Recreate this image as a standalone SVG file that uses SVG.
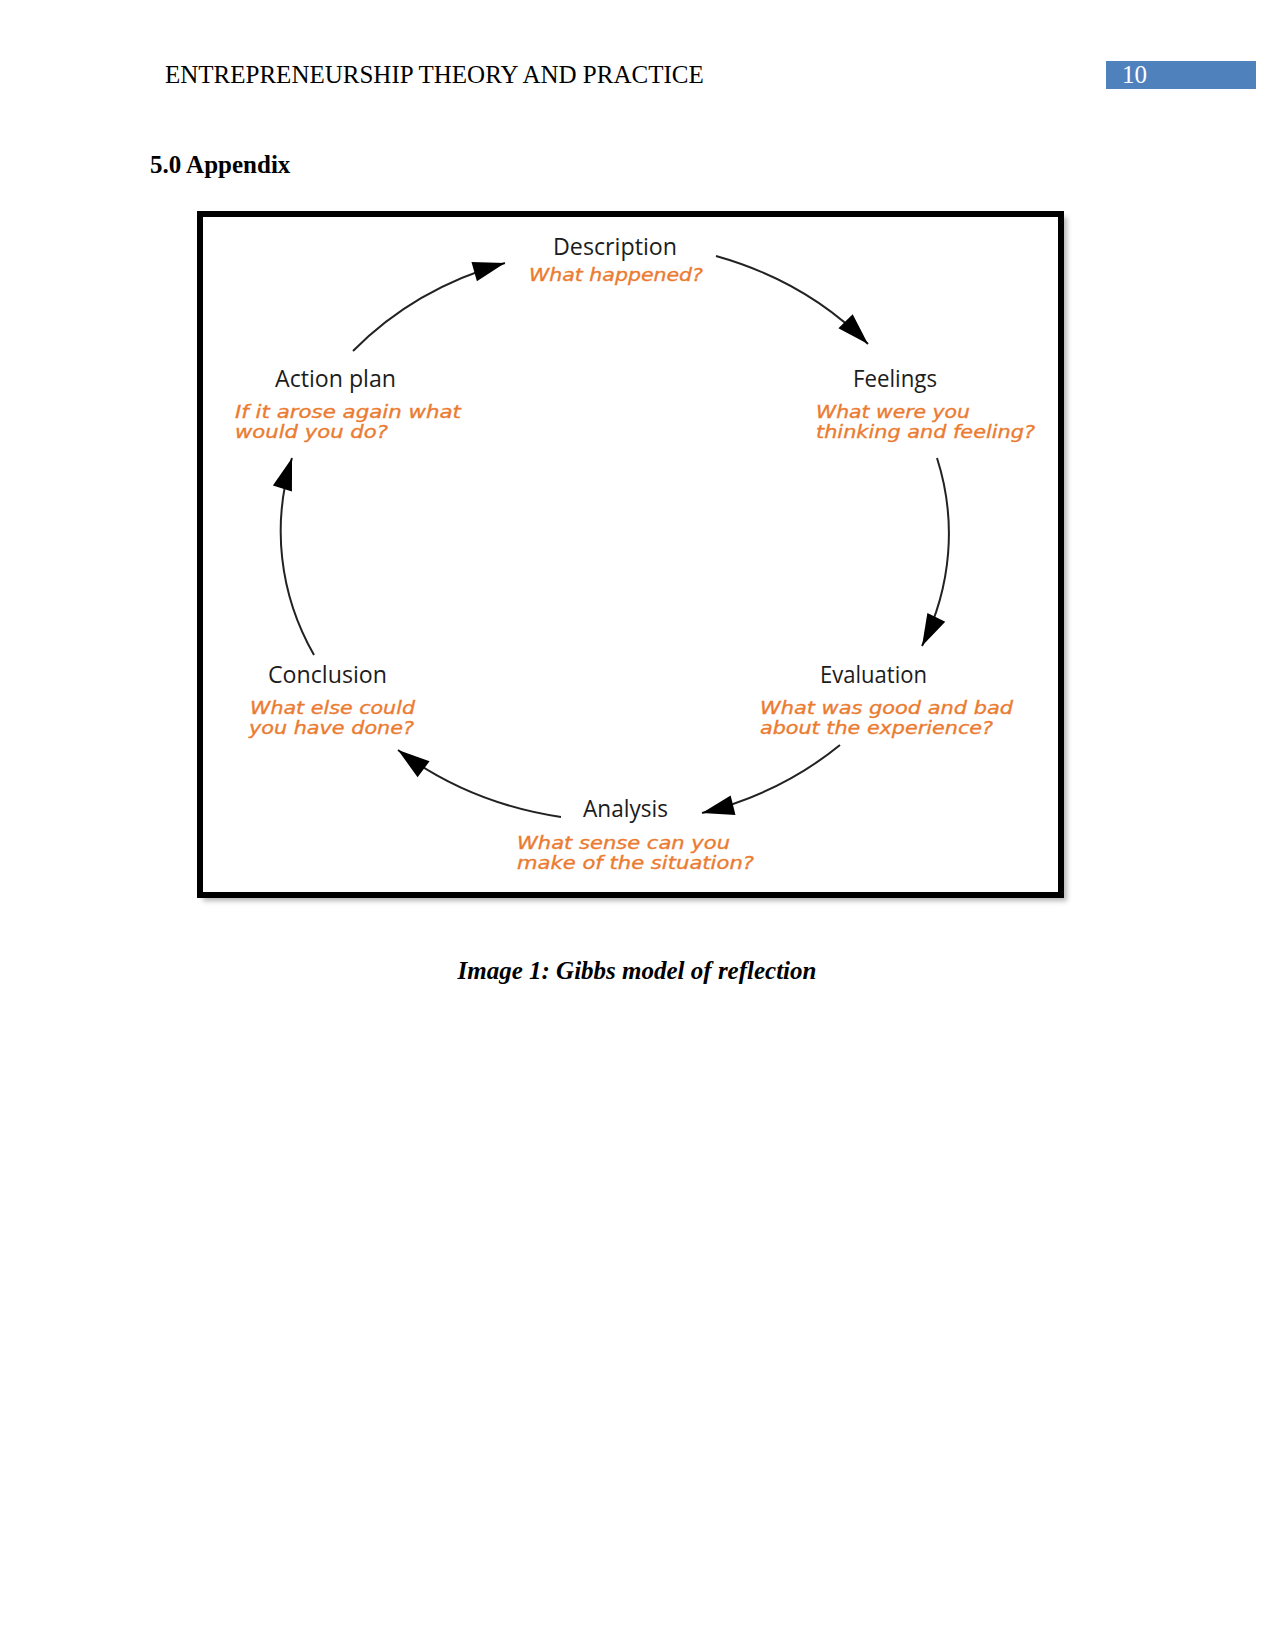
<svg xmlns="http://www.w3.org/2000/svg" width="1275" height="1651" viewBox="0 0 1275 1651">
  <style>
    .serif { font-family: "Liberation Serif", "Times New Roman", serif; font-size: 25px; fill: #000; }
    .title { font-family: "Open Sans", "Lato", "DejaVu Sans", sans-serif; font-size: 23px; font-weight: 500; fill: #1c1c1c; }
    .sub { font-family: "DejaVu Sans", "Verdana", sans-serif; font-style: italic; font-size: 18px; fill: #EB7B30; stroke: #EB7B30; stroke-width: 0.35; }
    .conn { fill: none; stroke: #222; stroke-width: 2; marker-end: url(#head); }
  </style>
  <defs>
    <marker id="head" markerUnits="userSpaceOnUse" markerWidth="36" markerHeight="24" refX="32" refY="10" orient="auto" overflow="visible">
      <path d="M0,0 L32,10 L0,20 Z" fill="#000"/>
    </marker>
    <filter id="shadow" x="-5%" y="-5%" width="110%" height="110%">
      <feGaussianBlur stdDeviation="2.5"/>
    </filter>
  </defs>
  <rect width="1275" height="1651" fill="#fff"/>

  <g id="header">
    <text class="serif" x="165" y="83">ENTREPRENEURSHIP THEORY AND PRACTICE</text>
    <rect x="1106" y="61" width="150" height="28" fill="#4F81BD"/>
    <text class="serif" x="1122" y="83" style="fill:#fff">10</text>
  </g>

  <text id="heading" class="serif" x="150" y="173" font-weight="bold">5.0 Appendix</text>

  <g id="frame">
    <rect x="203" y="217" width="864" height="684" fill="#999" filter="url(#shadow)" opacity="0.7"/>
    <rect x="200" y="214" width="861" height="681" fill="#fff" stroke="#000" stroke-width="6"/>
  </g>

  <g id="connectors">
    <path class="conn" d="M353,351 A336,290 0 0 1 505,263"/>
    <path class="conn" d="M716,256 A336,290 0 0 1 868,344"/>
    <path class="conn" d="M937,458 A320,280 0 0 1 922,646"/>
    <path class="conn" d="M840,745 A336,290 0 0 1 702,813"/>
    <path class="conn" d="M561,817 A336,290 0 0 1 398,750"/>
    <path class="conn" d="M314,655 A300,270 0 0 1 292,458"/>
  </g>

  <g id="description">
    <text class="title" x="553" y="255" textLength="124" lengthAdjust="spacingAndGlyphs">Description</text>
    <text class="sub" x="529" y="281" textLength="174" lengthAdjust="spacingAndGlyphs">What happened?</text>
  </g>
  <g id="feelings">
    <text class="title" x="853" y="387" textLength="84" lengthAdjust="spacingAndGlyphs">Feelings</text>
    <text class="sub" x="816" y="418" textLength="154" lengthAdjust="spacingAndGlyphs">What were you</text>
    <text class="sub" x="816" y="438" textLength="219" lengthAdjust="spacingAndGlyphs">thinking and feeling?</text>
  </g>
  <g id="evaluation">
    <text class="title" x="820" y="683" textLength="107" lengthAdjust="spacingAndGlyphs">Evaluation</text>
    <text class="sub" x="760" y="714" textLength="253" lengthAdjust="spacingAndGlyphs">What was good and bad</text>
    <text class="sub" x="760" y="734" textLength="233" lengthAdjust="spacingAndGlyphs">about the experience?</text>
  </g>
  <g id="analysis">
    <text class="title" x="583" y="817" textLength="85" lengthAdjust="spacingAndGlyphs">Analysis</text>
    <text class="sub" x="517" y="849" textLength="213" lengthAdjust="spacingAndGlyphs">What sense can you</text>
    <text class="sub" x="517" y="869" textLength="237" lengthAdjust="spacingAndGlyphs">make of the situation?</text>
  </g>
  <g id="conclusion">
    <text class="title" x="268" y="683" textLength="119" lengthAdjust="spacingAndGlyphs">Conclusion</text>
    <text class="sub" x="250" y="714" textLength="165" lengthAdjust="spacingAndGlyphs">What else could</text>
    <text class="sub" x="249" y="734" textLength="165" lengthAdjust="spacingAndGlyphs">you have done?</text>
  </g>
  <g id="action-plan">
    <text class="title" x="275" y="387" textLength="121" lengthAdjust="spacingAndGlyphs">Action plan</text>
    <text class="sub" x="235" y="418" textLength="226" lengthAdjust="spacingAndGlyphs">If it arose again what</text>
    <text class="sub" x="235" y="438" textLength="153" lengthAdjust="spacingAndGlyphs">would you do?</text>
  </g>

  <text id="caption" class="serif" x="637" y="979" text-anchor="middle" font-weight="bold" font-style="italic">Image 1: Gibbs model of reflection</text>
</svg>
